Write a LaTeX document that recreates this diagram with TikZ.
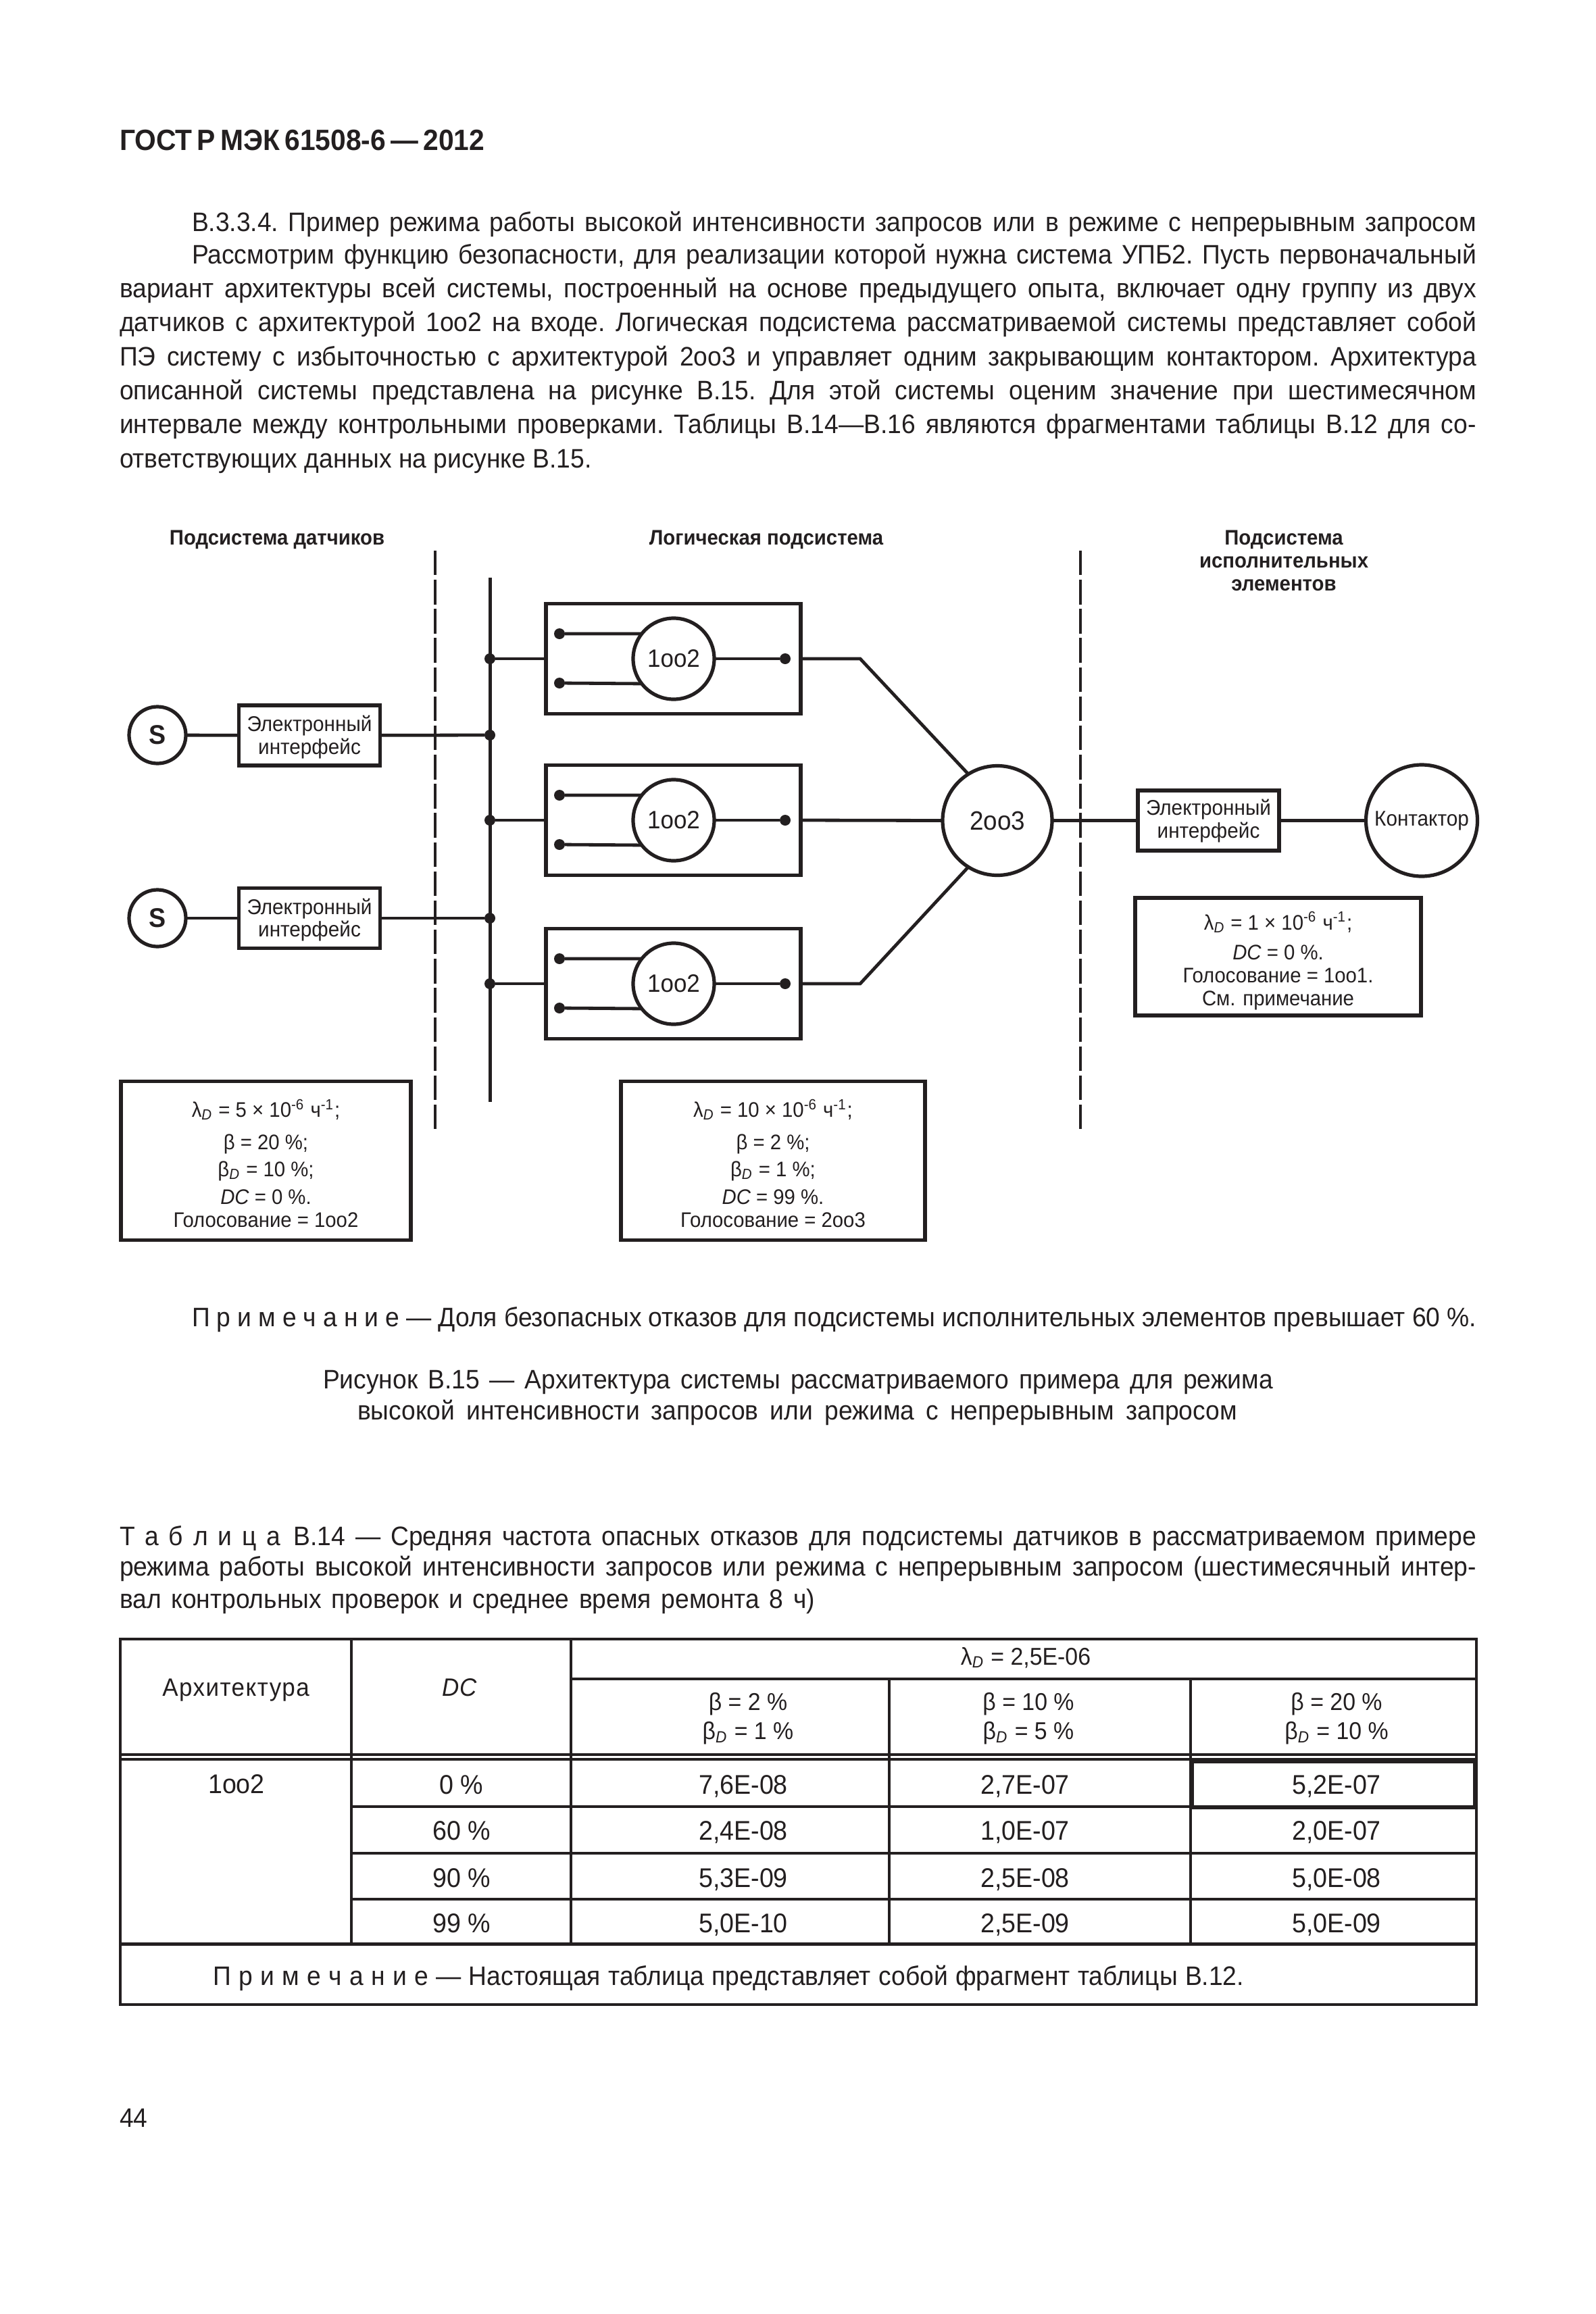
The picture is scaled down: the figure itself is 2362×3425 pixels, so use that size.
\documentclass[tikz,border=0pt]{standalone}
\usepackage{fontspec}
\setmainfont{Liberation Sans}[FakeStretch=0.94]
\usetikzlibrary{calc}
\definecolor{ink}{HTML}{231F20}
\newcommand{\fz}[2]{\fontsize{#1}{#2}\selectfont}
\newcommand{\subD}{\textsubscript{\itshape D}}
\newcommand{\la}{λ\subD}
\newcommand{\bd}{β\subD}
\newcommand{\sq}[1]{\textsuperscript{#1}}
\tikzset{
  x=0.25pt,y=-0.25pt,
  every node/.style={text=ink,inner sep=0pt,outer sep=0pt},
  wh/.style 2 args={minimum width=#1*0.25pt,minimum height=#2*0.25pt},
  wire/.style={draw=ink,line width=1.2pt},
  busline/.style={draw=ink,line width=1.25pt},
  sep/.style={draw=ink,line width=0.85pt,dash pattern=on 9.1pt off 1.69pt},
  ifbox/.style={draw=ink,line width=1.3pt,rectangle,wh={209}{89}},
  iftext/.style={align=center,font=\fz{7.9}{8.4}},
  modbox/.style={draw=ink,line width=1.4pt,rectangle,wh={377}{163}},
  infobox/.style={draw=ink,line width=1.3pt,rectangle},
  infotext/.style={align=center,font=\fz{7.8}{8.5}},
  vote/.style={draw=ink,fill=white,line width=1.3pt,circle,minimum size=120*0.25pt,font=\fz{9.3}{10}},
  sensor/.style={draw=ink,line width=1.3pt,circle,minimum size=84*0.25pt,font=\bfseries\fz{10}{10}},
  dot/.style={fill=ink,circle,minimum size=16*0.25pt},
  head/.style={font=\bfseries\fz{7.8}{8.4},align=center},
  bodytext/.style={font=\fz{9.9}{12}\frenchspacing,anchor=west,text height=7pt,text depth=1pt},
  tcell/.style={font=\fz{9}{10.2},align=center},
  tval/.style={font=\fz{10}{10},text height=7.2pt,text depth=0pt},
  tline/.style={draw=ink,line width=0.8pt},
  trow/.style={draw=ink,line width=1pt},
  tout/.style={draw=ink,line width=1.1pt},
}
\newcommand{\fullline}[3]{\node[bodytext] (#1) at (177,#2) {\makebox[502pt][s]{#3}};}
\newcommand{\indline}[3]{\node[bodytext] (#1) at (284,#2) {\makebox[475.25pt][s]{#3}};}
\begin{document}
\begin{tikzpicture}
\useasboundingbox (0,0) rectangle (2362,3425);
\fill[white] (0,0) rectangle (2362,3425);

% page head and text
\node[font=\bfseries\fz{10.85}{12},anchor=west] (pagehead) at (177,208) {ГОСТ\,Р\,МЭК\,61508-6\,—\,2012};
\indline{t1}{330}{В.3.3.4. Пример режима работы высокой интенсивности запросов или в режиме с непрерывным запросом}
\indline{t2}{378}{Рассмотрим функцию безопасности, для реализации которой нужна система УПБ2. Пусть первоначальный}
\fullline{t3}{428}{вариант архитектуры всей системы, построенный на основе предыдущего опыта, включает одну группу из двух}
\fullline{t4}{478.5}{датчиков с архитектурой 1oo2 на входе. Логическая подсистема рассматриваемой системы представляет собой}
\fullline{t5}{529}{ПЭ систему с избыточностью с архитектурой 2oo3 и управляет одним закрывающим контактором. Архитектура}
\fullline{t6}{579}{описанной системы представлена на рисунке В.15. Для этой системы оценим значение при шестимесячном}
\fullline{t7}{629}{интервале между контрольными проверками. Таблицы В.14—В.16 являются фрагментами таблицы В.12 для со-}
\node[bodytext] (t8) at (177,680) {ответствующих данных на рисунке В.15.};

% column heads
\node[head] (h1) at (410,799) {Подсистема датчиков};
\node[head] (h2) at (1134,799) {Логическая подсистема};
\node[head] (h3) at (1900,830) {Подсистема\\исполнительных\\элементов};

% separators and bus
\coordinate (d1t) at (644,815); \coordinate (d1b) at (644,1671);
\coordinate (d2t) at (1599,815); \coordinate (d2b) at (1599,1671);
\draw[sep] (d1t) -- (d1b);
\draw[sep] (d2t) -- (d2b);
\coordinate (bust) at (725,855); \coordinate (busb) at (725,1631);
\draw[busline] (bust) -- (busb);

% sensors
\node[sensor] (s1) at (233,1088) {S};
\node[sensor] (s2) at (233,1359) {S};
\node[ifbox] (if1) at (458,1088.5) {};
\node[iftext] (if1t) at (458,1091) {Электронный\\интерфейс};
\node[ifbox] (if2) at (458,1359) {};
\node[iftext] (if2t) at (458,1361.5) {Электронный\\интерфейс};

% junctions
\node[dot] (j1) at (725,975) {};
\node[dot] (j2) at (725,1088) {};
\node[dot] (j3) at (725,1214) {};
\node[dot] (j4) at (725,1359) {};
\node[dot] (j5) at (725,1456) {};

% logic modules
\node[modbox] (b1) at (996.5,975) {};
\node[modbox] (b2) at (996.5,1214) {};
\node[modbox] (b3) at (996.5,1456) {};
\node[vote] (c1) at (997,975) {1oo2};
\node[vote] (c2) at (997,1214) {1oo2};
\node[vote] (c3) at (997,1456) {1oo2};
\node[dot] (a1) at (828,938) {};
\node[dot] (e1) at (828,1011) {};
\node[dot] (o1) at (1162,975) {};
\node[dot] (a2) at (828,1177) {};
\node[dot] (e2) at (828,1250) {};
\node[dot] (o2) at (1162,1214) {};
\node[dot] (a3) at (828,1419) {};
\node[dot] (e3) at (828,1492) {};
\node[dot] (o3) at (1162,1456) {};

% voter and final element
\node[draw=ink,fill=white,line width=1.3pt,circle,minimum size=162*0.25pt,font=\fz{9.8}{10}] (v) at (1476,1214.5) {2oo3};
\node[ifbox] (if3) at (1788.5,1214.5) {};
\node[iftext] (if3t) at (1788.5,1215) {Электронный\\интерфейс};
\node[draw=ink,line width=1.3pt,circle,minimum size=165*0.25pt,font=\fz{7.9}{9}] (k) at (2104,1214.5) {Контактор};
\coordinate (k1) at (1273,975);
\coordinate (k3) at (1273,1456);

% connectors
\draw[wire] (s1) -- (if1);
\draw[wire] (s2) -- (if2);
\draw[wire] (if1) -- (j2);
\draw[wire] (if2) -- (j4);
\draw[wire] (j1) -- (b1.west);
\draw[wire] (j3) -- (b2.west);
\draw[wire] (j5) -- (b3.west);
\foreach \n in {1,2,3}{
  \draw[wire] (a\n) -- (c\n.142);
  \draw[wire] (e\n) -- (c\n.218);
  \draw[wire] (c\n.east) -- (o\n);
}
\draw[wire] (b1.east) -- (k1) -- (v.122);
\draw[wire] (b2.east) -- (v.west);
\draw[wire] (b3.east) -- (k3) -- (v.238);
\draw[wire] (v.east) -- (if3.west);
\draw[wire] (if3.east) -- (k.west);

% info boxes
\node[infobox,wh={429}{234.5}] (i1) at (393.5,1718) {};
\node[infotext] (i1t) at (393.5,1722) {\la{} = 5 × 10\sq{-6} ч\sq{-1};\\[3.5pt]β = 20 \%;\\[1.6pt]\bd{} = 10 \%;\\[1.8pt]{\itshape DC} = 0 \%.\\Голосование = 1oo2};
\node[infobox,wh={450}{234.5}] (i2) at (1144,1718) {};
\node[infotext] (i2t) at (1144,1722) {\la{} = 10 × 10\sq{-6} ч\sq{-1};\\[3.5pt]β = 2 \%;\\[1.6pt]\bd{} = 1 \%;\\[1.8pt]{\itshape DC} = 99 \%.\\Голосование = 2oo3};
\node[infobox,wh={423}{174}] (i3) at (1891.5,1416) {};
\node[infotext] (i3t) at (1891.5,1422) {\la{} = 1 × 10\sq{-6} ч\sq{-1};\\[2.5pt]{\itshape DC} = 0 \%.\\Голосование = 1oo1.\\См. примечание};

% note and caption
\indline{n1}{1951}{П р и м е ч а н и е — Доля безопасных отказов для подсистемы исполнительных элементов превышает 60 \%.}
\node[bodytext] (c1t) at (478,2043) {\makebox[351.5pt][s]{Рисунок В.15 — Архитектура системы рассматриваемого примера для режима}};
\node[bodytext] (c2t) at (529,2089) {\makebox[325.5pt][s]{высокой интенсивности запросов или режима с непрерывным запросом}};

% table title
\fullline{tt1}{2275}{Т а б л и ц а\enspace В.14 — Средняя частота опасных отказов для подсистемы датчиков в рассматриваемом примере}
\fullline{tt2}{2320}{режима работы высокой интенсивности запросов или режима с непрерывным запросом (шестимесячный интер-}
\node[bodytext] (tt3) at (177,2368) {\makebox[257.25pt][s]{вал контрольных проверок и среднее время ремонта 8 ч)}};

% table rules
\draw[tout] (178,2426) rectangle (2185,2967);
\draw[tout] (178,2877.5) -- (2185,2877.5);
\draw[tline] (178,2597) -- (2185,2597);
\draw[tline] (178,2604) -- (2185,2604);
\draw[tline] (845,2485) -- (2185,2485);
\draw[tline] (520,2426) -- (520,2877.5);
\draw[tline] (845,2426) -- (845,2877.5);
\draw[tline] (1316,2485) -- (1316,2877.5);
\draw[trow] (1762,2485) -- (1762,2877.5);
\draw[trow] (520,2674) -- (2185,2674);
\draw[trow] (520,2742.5) -- (2185,2742.5);
\draw[trow] (520,2811) -- (2185,2811);

% table cells
\node[tval,font=\addfontfeature{LetterSpace=4}\fz{9.3}{10}] (ha) at (349,2496) {Архитектура};
\node[tval,font=\fz{9.3}{10}] (hd) at (680,2496) {\itshape DC};
\node[tcell] (hl) at (1518,2454) {\la{} = 2,5E-06};
\node[tcell] (hb1) at (1107,2544) {β = 2 \%\\[0.6pt]\bd{} = 1 \%};
\node[tcell] (hb2) at (1522,2544) {β = 10 \%\\[0.6pt]\bd{} = 5 \%};
\node[tcell] (hb3) at (1978,2544) {β = 20 \%\\[0.6pt]\bd{} = 10 \%};
\node[tval] (r0) at (350,2640) {1oo2};
\node[tval] (r1d) at (683,2641) {0 \%};
\node[tval] (r2d) at (683,2709) {60 \%};
\node[tval] (r3d) at (683,2779) {90 \%};
\node[tval] (r4d) at (683,2846) {99 \%};
\node[tval] (r1a) at (1100,2641) {7,6E-08};
\node[tval] (r2a) at (1100,2709) {2,4E-08};
\node[tval] (r3a) at (1100,2779) {5,3E-09};
\node[tval] (r4a) at (1100,2846) {5,0E-10};
\node[tval] (r1b) at (1517,2641) {2,7E-07};
\node[tval] (r2b) at (1517,2709) {1,0E-07};
\node[tval] (r3b) at (1517,2779) {2,5E-08};
\node[tval] (r4b) at (1517,2846) {2,5E-09};
\node[tval,draw=ink,line width=1.6pt,rectangle,wh={419}{68.5}] (r1c) at (1973.5,2641) {\hspace*{2.25pt}5,2E-07};
\node[tval] (r2c) at (1978,2709) {2,0E-07};
\node[tval] (r3c) at (1978,2779) {5,0E-08};
\node[tval] (r4c) at (1978,2846) {5,0E-09};
\node[bodytext] (tn) at (315,2926) {\makebox[381.5pt][s]{П р и м е ч а н и е — Настоящая таблица представляет собой фрагмент таблицы В.12.}};

\node[bodytext] (pg) at (177,3136) {44};
\end{tikzpicture}
\end{document}
